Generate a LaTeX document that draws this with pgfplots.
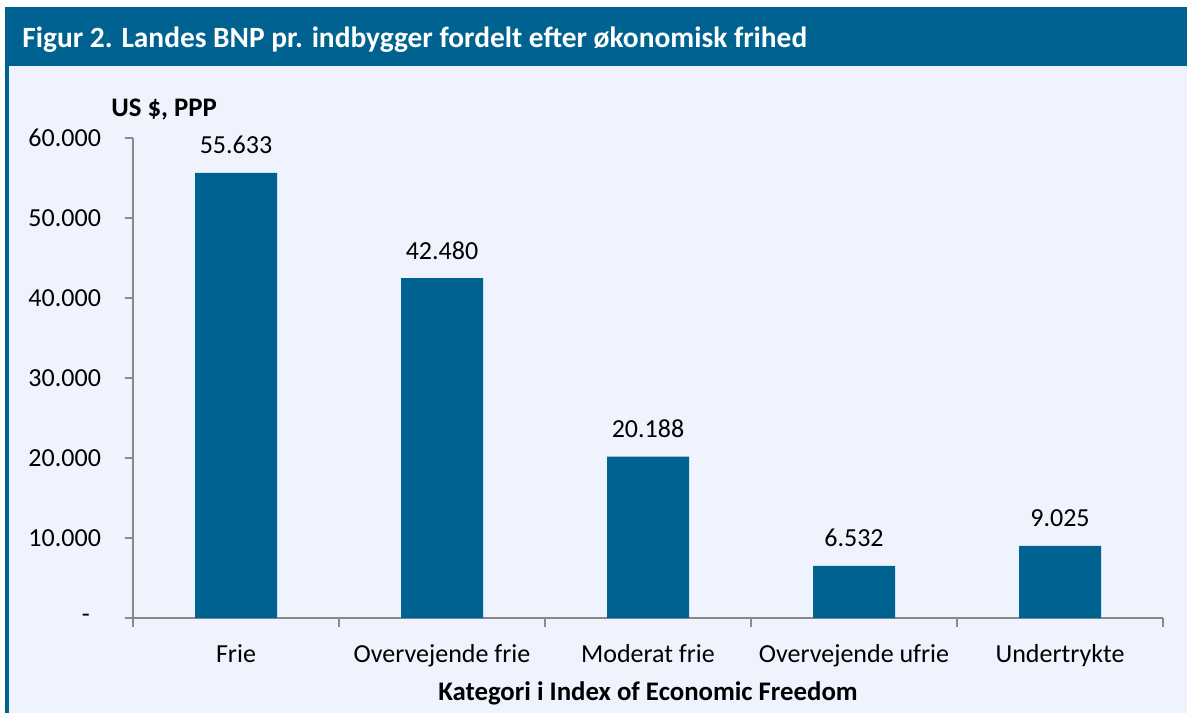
\documentclass[border=0pt]{standalone}
\usepackage{fontspec}
\setmainfont{Carlito}
\usepackage{pgfplots}
\pgfplotsset{compat=1.18}
\definecolor{barblue}{HTML}{006290}
\definecolor{bgblue}{HTML}{EFF3FE}
\definecolor{axgray}{HTML}{898989}
\newcommand{\tfont}{\fontsize{13}{15.6}\selectfont}
\newcommand{\bfont}{\fontsize{13.4}{16}\selectfont\bfseries}
\begin{document}
\begin{tikzpicture}
\begin{scope}[x=0.5pt,y=-0.5pt]
\path[use as bounding box] (0,0) rectangle (1187,713);
\fill[bgblue] (5,66) rectangle (1187,713);
\fill[barblue] (5,7) rectangle (1187,66);
\fill[barblue] (5,7) rectangle (9,713);
\node[anchor=base west, inner sep=0pt, text=white, font=\fontsize{14.7}{17}\selectfont\bfseries] at (22,47) {Figur 2. Landes BNP pr. indbygger fordelt efter økonomisk frihed};
\node[anchor=base west, inner sep=0pt, font=\bfont] at (111,116) {US \$, PPP};
\coordinate (O) at (133,618);
\end{scope}
\begin{axis}[
  at={(O)}, anchor=south west,
  scale only axis, width=515pt, height=240pt,
  xmin=-0.5, xmax=4.5, ymin=0, ymax=60000,
  axis x line*=bottom, axis y line*=left,
  axis line style={axgray, line width=1pt},
  tick align=outside,
  tick style={axgray, line width=1pt},
  major tick length=4pt,
  scaled y ticks=false,
  ytick={0,10000,20000,30000,40000,50000,60000},
  yticklabels={{-\kern5.5pt},10.000,20.000,30.000,40.000,50.000,60.000},
  yticklabel style={font=\tfont, anchor=east, xshift=-8.5pt},
  xtick={0,1,2,3,4},
  xticklabels={Frie,Overvejende frie,Moderat frie,Overvejende ufrie,Undertrykte},
  x tick style={draw=none},
  minor xtick={-0.5,0.5,1.5,2.5,3.5,4.5},
  minor x tick style={draw=axgray, line width=1pt},
  minor tick length=4.5pt,
  xticklabel style={font=\tfont, anchor=base, yshift=-18pt},
  xlabel={Kategori i Index of Economic Freedom},
  xlabel style={font=\bfont, at={(axis description cs:0.5,0)}, anchor=base, yshift=-41pt},
  /pgf/number format/assume math mode=true,
  ybar, bar width=41pt,
  nodes near coords={\pgfmathprintnumber[fixed,precision=0,1000 sep={.}]{\pgfplotspointmeta}},
  nodes near coords style={font=\tfont, anchor=base, yshift=9.5pt, text=black},
]
\addplot[fill=barblue, draw=none] coordinates {(0,55633) (1,42480) (2,20188) (3,6532) (4,9025)};
\end{axis}
\end{tikzpicture}
\end{document}
